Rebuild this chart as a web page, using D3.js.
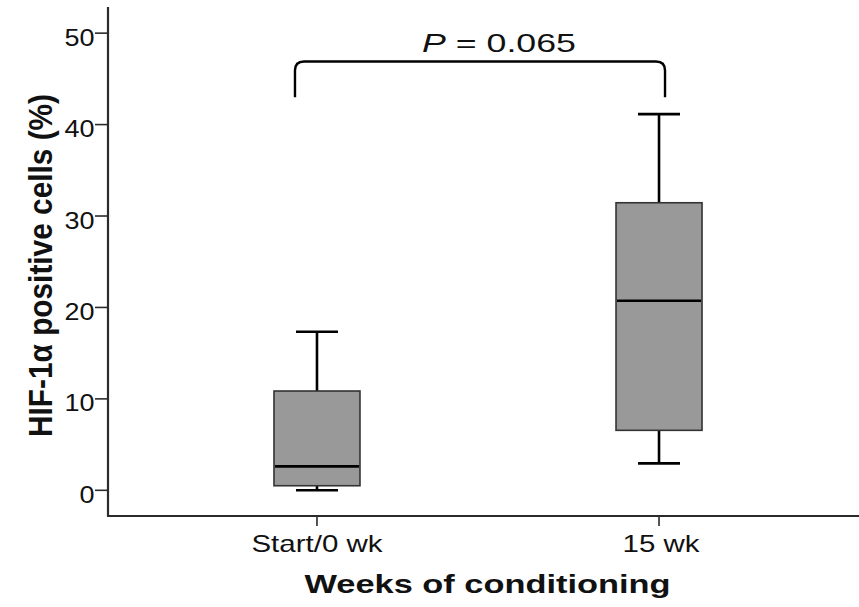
<!DOCTYPE html>
<html><head><meta charset="utf-8">
<script src="https://cdn.jsdelivr.net/npm/d3@7"></script>
<style>
html,body{margin:0;padding:0;background:#fff;}
text{font-family:"Liberation Sans",Arial,sans-serif;}
</style></head>
<body>
<svg id="chart" width="859" height="607"></svg>
<script>
// ---- data ----
const categories = ["Start/0 wk", "15 wk"];
const whiskerLow  = [0.0, 2.95];
const q1          = [0.5, 6.56];
const median      = [2.62, 20.73];
const q3          = [10.86, 31.45];
const whiskerHigh = [17.34, 41.14];
const yTicks = [0, 10, 20, 30, 40, 50];
const pLabel = "0.065";
const bracketTop = 46.9, bracketFoot = 43.0;

const svg = d3.select("#chart");
const x = d3.scalePoint().domain(categories).range([108, 868]).padding(0.611);
const y = d3.scaleLinear().domain([-2.81, 52.86]).range([516, 7]);

const axisColor = "#2b2b2b";
// axes lines
svg.append("line").attr("x1",108).attr("x2",108).attr("y1",y(52.86)).attr("y2",y(-2.81))
  .attr("stroke",axisColor).attr("stroke-width",2.2);
svg.append("line").attr("x1",107).attr("x2",859).attr("y1",y(-2.81)).attr("y2",y(-2.81))
  .attr("stroke",axisColor).attr("stroke-width",2.2);

// y ticks
const yt = svg.append("g");
yTicks.forEach(t=>{
  yt.append("line").attr("x1",95).attr("x2",108).attr("y1",y(t)).attr("y2",y(t))
    .attr("stroke",axisColor).attr("stroke-width",1.6);
  yt.append("text").attr("x",94.5).attr("y",y(t)+12.6).attr("text-anchor","end")
    .attr("font-size",24.5).attr("fill","#111")
    .attr("textLength", String(t).length*15).attr("lengthAdjust","spacingAndGlyphs")
    .text(t);
});

// x ticks
const xLabelWidths = [131, 77];
categories.forEach((c,i)=>{
  svg.append("line").attr("x1",x(c)).attr("x2",x(c)).attr("y1",516).attr("y2",526)
    .attr("stroke",axisColor).attr("stroke-width",1.6);
  svg.append("text").attr("x",x(c)+(i===1?2:0)).attr("y",552.3).attr("text-anchor","middle")
    .attr("font-size",24).attr("fill","#111")
    .attr("textLength",xLabelWidths[i]).attr("lengthAdjust","spacingAndGlyphs")
    .text(c);
});

// boxes
const boxW = 86, capW = 42;
categories.forEach((c,i)=>{
  const cx = x(c);
  const g = svg.append("g");
  // whiskers
  g.append("line").attr("x1",cx).attr("x2",cx).attr("y1",y(whiskerHigh[i])).attr("y2",y(q3[i]))
    .attr("stroke","#000").attr("stroke-width",2.6);
  g.append("line").attr("x1",cx).attr("x2",cx).attr("y1",y(q1[i])).attr("y2",y(whiskerLow[i]))
    .attr("stroke","#000").attr("stroke-width",2.6);
  g.append("line").attr("x1",cx-capW/2).attr("x2",cx+capW/2).attr("y1",y(whiskerHigh[i])).attr("y2",y(whiskerHigh[i]))
    .attr("stroke","#000").attr("stroke-width",2.6);
  g.append("line").attr("x1",cx-capW/2).attr("x2",cx+capW/2).attr("y1",y(whiskerLow[i])).attr("y2",y(whiskerLow[i]))
    .attr("stroke","#000").attr("stroke-width",2.6);
  // box
  g.append("rect").attr("x",cx-boxW/2).attr("y",y(q3[i])).attr("width",boxW).attr("height",y(q1[i])-y(q3[i]))
    .attr("fill","#999999").attr("stroke","#333").attr("stroke-width",1.6);
  g.append("line").attr("x1",cx-boxW/2+1).attr("x2",cx+boxW/2-1).attr("y1",y(median[i])).attr("y2",y(median[i]))
    .attr("stroke","#000").attr("stroke-width",2.6);
});

// bracket
const bl = x(categories[0]) - 22, br = x(categories[1]) + 6, r = 9;
const yt0 = y(bracketTop), yf = y(bracketFoot);
svg.append("path")
  .attr("d", `M${bl},${yf} L${bl},${yt0+r} Q${bl},${yt0} ${bl+r},${yt0} L${br-r},${yt0} Q${br},${yt0} ${br},${yt0+r} L${br},${yf}`)
  .attr("fill","none").attr("stroke","#000").attr("stroke-width",2.4);
const pt = svg.append("text").attr("x",422).attr("y",52.3).attr("font-size",26).attr("fill","#111")
  .attr("textLength",154).attr("lengthAdjust","spacingAndGlyphs");
pt.append("tspan").attr("font-style","italic").text("P");
pt.append("tspan").text(" = " + pLabel);

// axis titles
svg.append("text").attr("x",487.5).attr("y",593).attr("text-anchor","middle")
  .attr("font-size",26).attr("font-weight","bold").attr("fill","#111")
  .attr("textLength",366).attr("lengthAdjust","spacingAndGlyphs")
  .text("Weeks of conditioning");
svg.append("text").attr("transform","translate(51.5,265.5) rotate(-90)").attr("text-anchor","middle")
  .attr("font-size",33).attr("font-weight","bold").attr("fill","#111")
  .attr("textLength",343).attr("lengthAdjust","spacingAndGlyphs")
  .text("HIF-1α positive cells (%)");
</script>
</body></html>
